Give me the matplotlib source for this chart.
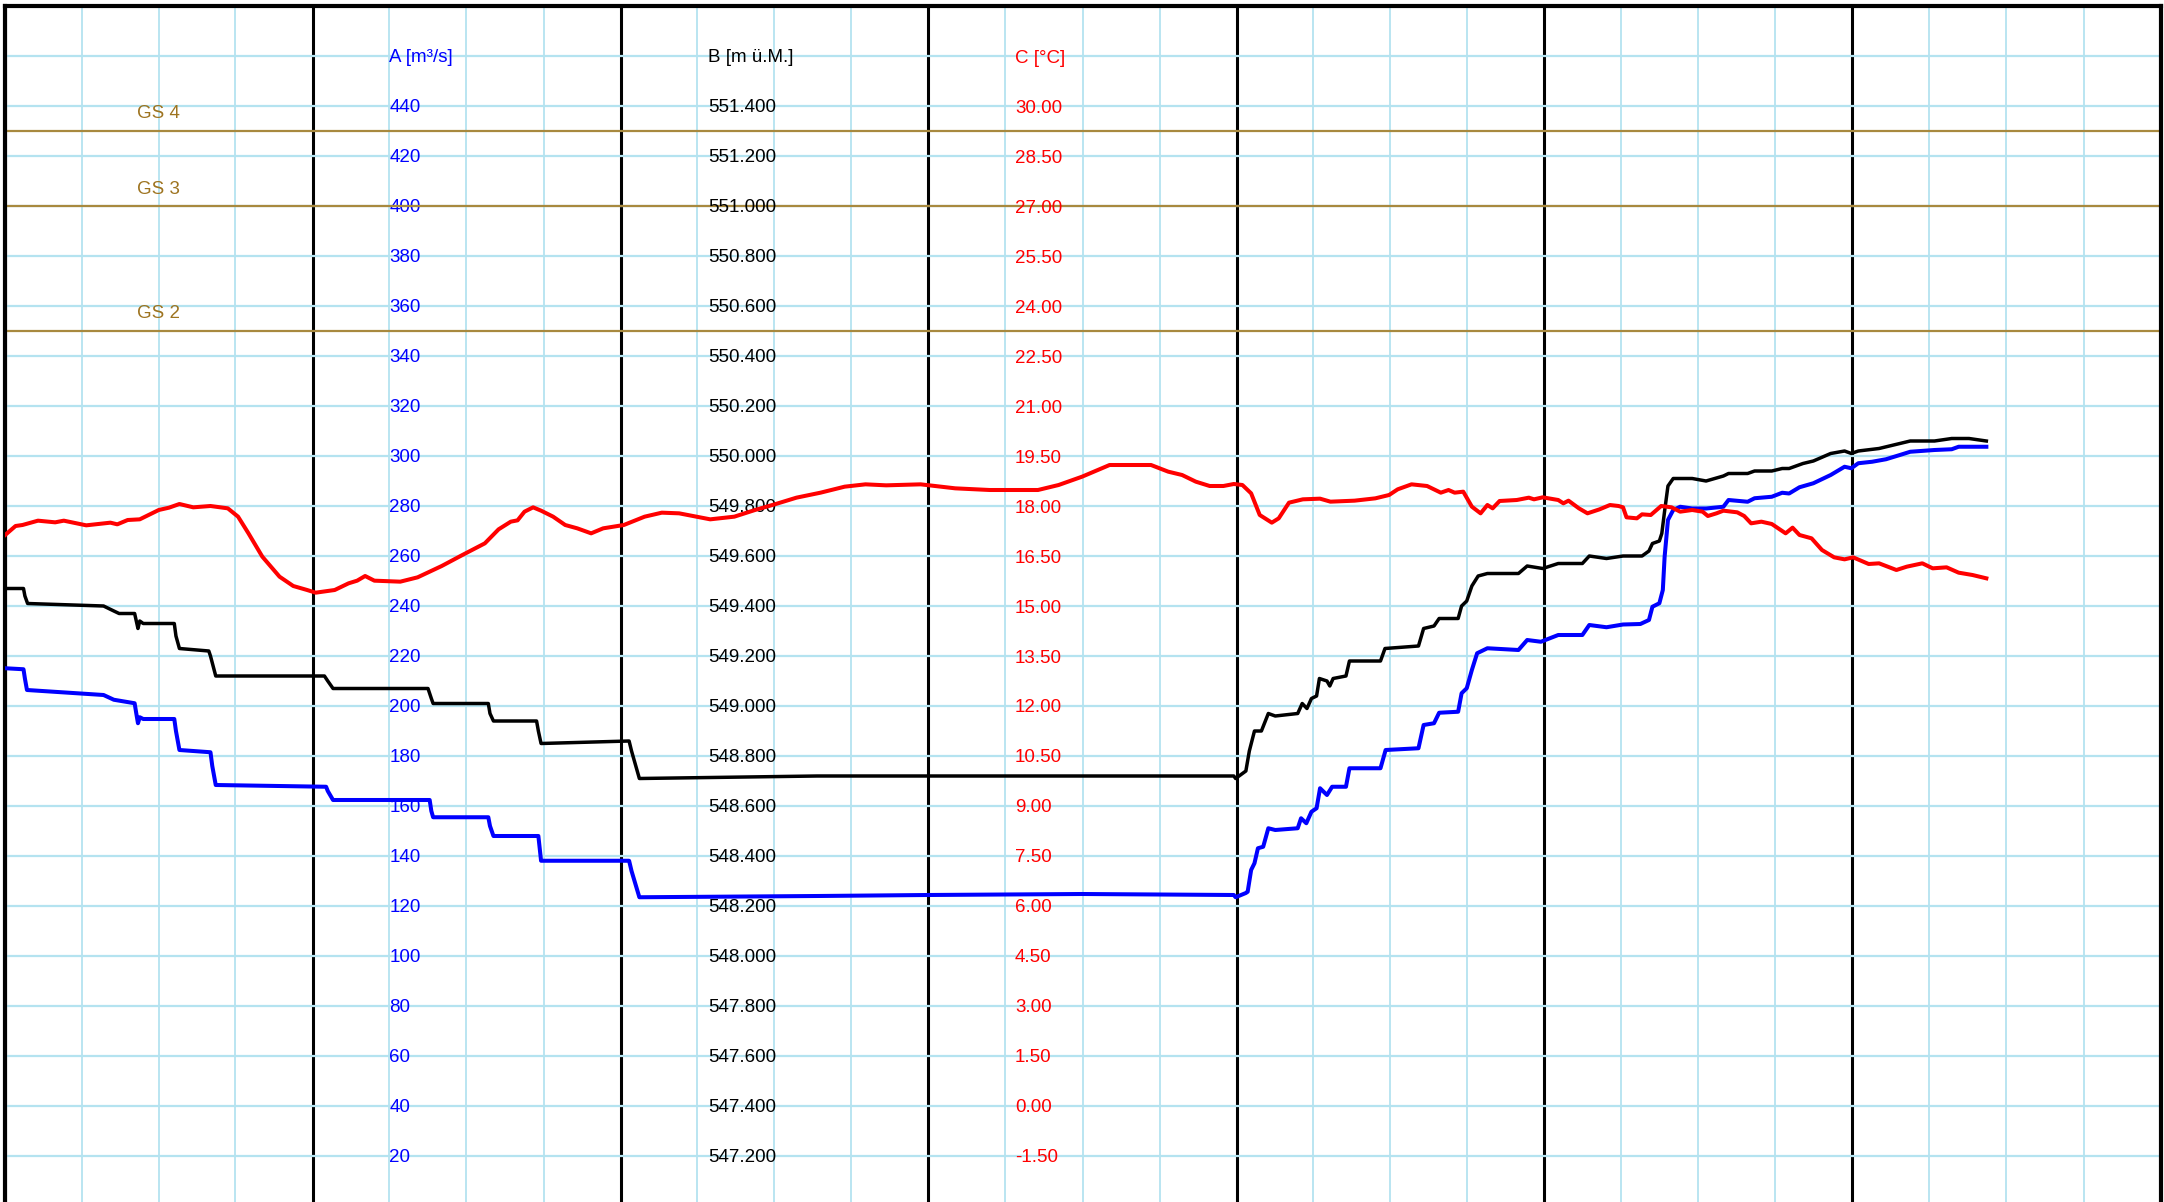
import numpy as np
import matplotlib
matplotlib.use("Agg")
import matplotlib.pyplot as plt
from matplotlib.ticker import MultipleLocator

plt.rcParams['font.family'] = ['Liberation Sans', 'DejaVu Sans']

# time axis in hours (7 days, 6 h minor grid)
a_hours = [0.05, 1.48, 1.59, 1.75, 7.72, 8.52, 10.14, 10.27, 10.40, 10.54, 10.81, 13.23, 13.36, 13.63,
           16.05, 16.19, 16.46, 25.06, 25.19, 25.6, 33.13, 33.26, 33.4, 37.7, 37.83, 38.1, 41.6, 41.81,
           48.67, 48.86, 49.47, 63.32, 71.93, 83.97, 95.79, 95.93, 96.73, 96.87, 97.14, 97.40, 97.67,
           98.08, 98.48, 99.02, 100.77, 101.03, 101.44, 101.84, 102.24, 102.51, 103.05, 103.45, 104.53,
           104.8, 107.22, 107.62, 110.18, 110.58, 111.39, 111.79, 113.27, 113.54, 113.94, 114.34, 114.75,
           115.55, 117.97, 118.65, 119.72, 121.07, 122.95, 123.49, 124.83, 126.12, 127.47, 128.14, 128.41,
           128.95, 129.22, 129.36, 129.62, 130.03, 130.57, 131.51, 132.59, 133.94, 134.34, 135.83, 136.37,
           137.71, 138.52, 139.06, 139.87, 140.95, 142.3, 143.38, 143.91, 144.45, 145.53, 146.61, 147.69,
           148.5, 150.39, 151.73, 152.27, 153.08, 154.43]
a_flow = [215.1, 214.7, 211, 206.4, 204.4, 202.5, 201.1, 197, 193.1, 195.5, 194.8, 194.8, 190, 182.4,
          181.5, 176, 168.4, 167.7, 166, 162.4, 162.4, 158, 155.5, 155.5, 152, 148.0, 148.0, 138.1,
          138.1, 134, 123.5, 124.0, 124.4, 124.8, 124.4, 123.5, 125.2, 125.7, 134.4, 137.1, 143.1,
          143.7, 151.1, 150.4, 151.1, 155.1, 153.1, 157.7, 159.1, 167.1, 164.4, 167.7, 167.7,
          175.1, 175.1, 182.4, 183.1, 192.4, 193.1, 197.3, 197.7, 205.1, 207.1, 214.4, 221.1,
          223.1, 222.4, 226.4, 225.7, 228.4, 228.4, 232.4, 231.5, 232.6, 232.8, 234.4, 239.7,
          241.1, 246.4, 259.7, 274.4, 278.4, 279.7, 279.0, 279.0, 279.7, 282.4, 281.7, 283.1,
          283.7, 285.3, 285.0, 287.5, 289.1, 292.4, 295.7, 295.1, 297.1, 297.7, 298.7, 300.4,
          301.7, 302.4, 302.7, 303.7, 303.7, 303.7]

b_hours = [0.05, 1.48, 1.59, 1.80, 7.72, 8.52, 8.93, 10.14, 10.40, 10.54, 10.81, 13.23, 13.36, 13.63,
           15.92, 16.05, 16.46, 24.93, 25.19, 25.6, 33.0, 33.26, 33.4, 37.7, 37.83, 38.1, 41.46, 41.6,
           41.81, 48.67, 48.86, 49.47, 63.32, 83.97, 95.79, 95.93, 96.73, 97.0, 97.40, 97.94, 98.48,
           99.02, 100.77, 101.12, 101.49, 101.84, 102.24, 102.46, 103.05, 103.27, 103.53, 104.53, 104.8,
           107.22, 107.57, 110.18, 110.58, 111.39, 111.79, 113.27, 113.54, 113.94, 114.34, 114.83, 115.55,
           115.82, 117.97, 118.65, 119.86, 121.07, 122.95, 123.49, 124.83, 126.12, 127.6, 128.14, 128.41,
           128.95, 129.14, 129.36, 129.62, 130.03, 130.7, 131.51, 132.59, 133.94, 134.34, 135.83, 136.37,
           137.71, 138.52, 139.06, 140.14, 140.95, 142.3, 143.38, 143.91, 144.45, 146.07, 147.69, 148.5,
           150.39, 151.73, 153.08, 154.43]
b_level = [549.47, 549.47, 549.44, 549.41, 549.40, 549.38, 549.37, 549.37, 549.31, 549.34, 549.33, 549.33,
           549.28, 549.23, 549.22, 549.20, 549.12, 549.12, 549.10, 549.07, 549.07, 549.03, 549.01, 549.01,
           548.97, 548.94, 548.94, 548.90, 548.85, 548.86, 548.82, 548.71, 548.72, 548.72, 548.72, 548.71,
           548.74, 548.82, 548.90, 548.90, 548.97, 548.96, 548.97, 549.01, 548.99, 549.03, 549.04, 549.11,
           549.10, 549.08, 549.11, 549.12, 549.18, 549.18, 549.23, 549.24, 549.31, 549.32, 549.35, 549.35,
           549.40, 549.42, 549.48, 549.52, 549.53, 549.53, 549.53, 549.56, 549.55, 549.57, 549.57, 549.60,
           549.59, 549.60, 549.60, 549.62, 549.65, 549.66, 549.69, 549.78, 549.88, 549.91, 549.91, 549.91,
           549.90, 549.92, 549.93, 549.93, 549.94, 549.94, 549.95, 549.95, 549.97, 549.98, 550.01, 550.02,
           550.01, 550.02, 550.03, 550.05, 550.06, 550.06, 550.07, 550.07, 550.06]

c_hours = [0.05, 0.86, 1.40, 2.61, 3.95, 4.62, 6.37, 8.25, 8.79, 9.60, 10.54, 12.02, 12.82, 13.63, 14.71,
           16.05, 17.40, 18.20, 19.01, 20.09, 20.76, 21.43, 22.5, 23.58, 24.25, 25.73, 26.81, 27.48, 28.1,
           28.82, 30.84, 32.19, 34.07, 35.68, 37.43, 38.5, 39.45, 39.98, 40.52, 41.19, 41.81, 42.75, 43.69,
           44.63, 45.71, 46.65, 48.26, 49.88, 51.22, 52.57, 54.99, 56.87, 58.48, 60.1, 61.71, 63.59, 65.47,
           67.09, 68.7, 71.39, 74.08, 76.77, 80.53, 82.14, 83.97, 86.11, 89.34, 90.68, 91.76, 92.83, 93.91,
           94.98, 95.79, 96.46, 97.14, 97.81, 98.75, 99.29, 100.09, 101.17, 102.51, 103.32, 105.2, 106.82,
           107.89, 108.56, 109.64, 110.85, 111.92, 112.52, 113.0, 113.67, 114.34, 115.02, 115.55, 115.96,
           116.5, 117.84, 118.78, 119.18, 119.86, 121.07, 121.47, 121.87, 122.68, 123.35, 124.29, 125.1,
           125.77, 126.12, 126.39, 127.2, 127.6, 128.28, 129.09, 129.9, 130.57, 131.51, 132.32, 132.73,
           133.4, 133.94, 135.02, 135.56, 136.1, 136.9, 137.71, 138.79, 139.33, 139.87, 140.81, 141.62,
           142.57, 143.38, 144.05, 145.26, 146.07, 147.42, 148.23, 149.44, 150.25, 151.33, 152.27, 153.35,
           154.43]
c_temp = [17.13, 17.40, 17.43, 17.56, 17.51, 17.56, 17.42, 17.50, 17.45, 17.58, 17.60, 17.88, 17.95, 18.06,
          17.96, 18.00, 17.93, 17.68, 17.18, 16.48, 16.18, 15.88, 15.60, 15.48, 15.40, 15.48, 15.68, 15.76,
          15.90, 15.76, 15.73, 15.86, 16.20, 16.53, 16.88, 17.30, 17.53, 17.57, 17.83, 17.96, 17.86, 17.68,
          17.43, 17.33, 17.18, 17.33, 17.43, 17.68, 17.80, 17.78, 17.60, 17.68, 17.88, 18.06, 18.25, 18.40,
          18.58, 18.65, 18.62, 18.65, 18.53, 18.48, 18.48, 18.63, 18.88, 19.23, 19.23, 19.03, 18.93, 18.73,
          18.60, 18.60, 18.66, 18.63, 18.38, 17.73, 17.50, 17.63, 18.10, 18.20, 18.22, 18.13, 18.16, 18.23,
          18.33, 18.50, 18.65, 18.60, 18.40, 18.48, 18.40, 18.43, 17.98, 17.78, 18.03, 17.93, 18.15, 18.18,
          18.25, 18.20, 18.26, 18.18, 18.08, 18.16, 17.93, 17.78, 17.90, 18.03, 18.00, 17.96, 17.66, 17.63,
          17.75, 17.73, 18.00, 17.96, 17.83, 17.88, 17.83, 17.70, 17.78, 17.86, 17.81, 17.70, 17.48, 17.53,
          17.46, 17.18, 17.35, 17.13, 17.03, 16.68, 16.46, 16.40, 16.46, 16.26, 16.28, 16.08, 16.18, 16.28,
          16.13, 16.16, 16.00, 15.93, 15.83]

# axis labels drawn inside the plot
a_ticks = list(range(20, 460, 20))
b_ticks = [547.2 + 0.2 * i for i in range(22)]
c_ticks = [-1.5 + 1.5 * i for i in range(22)]

gs_names = ['GS 4', 'GS 3', 'GS 2']
gs_flow = [430, 400, 350]

blue = '#0000ff'
red = '#ff0000'
gold_line = '#a8893f'
gold_text = '#9e7420'
grid_blue = '#b4e3f0'

fig = plt.figure(figsize=(21.64, 12.02), dpi=100)
ax = fig.add_axes([4.5 / 2164, 0, 2156 / 2164, 1 - 6 / 1202])
axB = ax.twinx()
axC = ax.twinx()

ax.set_xlim(0, 168)
ax.set_ylim(1.6, 480)
axB.set_ylim(547.016, 551.8)
axC.set_ylim(-2.88, 33.0)

ax.xaxis.set_major_locator(MultipleLocator(24))
ax.xaxis.set_minor_locator(MultipleLocator(6))
ax.set_yticks(range(20, 480, 20))
ax.grid(which='minor', axis='x', color=grid_blue, lw=1.3)
ax.grid(which='major', axis='y', color=grid_blue, lw=1.6)
ax.grid(which='major', axis='x', color='black', lw=2.2)
ax.set_axisbelow(True)

for a in (ax, axB, axC):
    a.tick_params(which='both', length=0, labelleft=False, labelright=False, labelbottom=False)
    for side in a.spines:
        a.spines[side].set_visible(False)
for side in ('top', 'left', 'right'):
    ax.spines[side].set_visible(True)
    ax.spines[side].set_linewidth(3)

fs = 13.5
va = 'center_baseline'

# limit lines
for name, val in zip(gs_names, gs_flow):
    ax.axhline(val, color=gold_line, lw=1.6, zorder=2)
    ax.text(12, val + 7.6, name, color=gold_text, fontsize=fs, ha='center', va=va, zorder=2)

# inline scale labels
ax.text(30, 460, 'A [m³/s]', color=blue, fontsize=fs, va=va, zorder=1)
for v in a_ticks:
    ax.text(30, v, f'{v}', color=blue, fontsize=fs, va=va, zorder=1)
axB.text(54.85, 551.6, 'B [m ü.M.]', color='black', fontsize=fs, va=va, zorder=1)
for v in b_ticks:
    axB.text(54.85, v, f'{v:.3f}', color='black', fontsize=fs, va=va, zorder=1)
axC.text(78.75, 31.5, 'C [°C]', color=red, fontsize=fs, va=va, zorder=1)
for v in c_ticks:
    axC.text(78.75, v, f'{v:.2f}', color=red, fontsize=fs, va=va, zorder=1)

ax.plot(a_hours, a_flow, color=blue, lw=2.9, zorder=5, solid_joinstyle='round')
axB.plot(b_hours, b_level, color='black', lw=2.5, zorder=5, solid_joinstyle='round')
axC.plot(c_hours, c_temp, color=red, lw=2.9, zorder=5, solid_joinstyle='round')

fig.savefig('out.png', dpi=100)
